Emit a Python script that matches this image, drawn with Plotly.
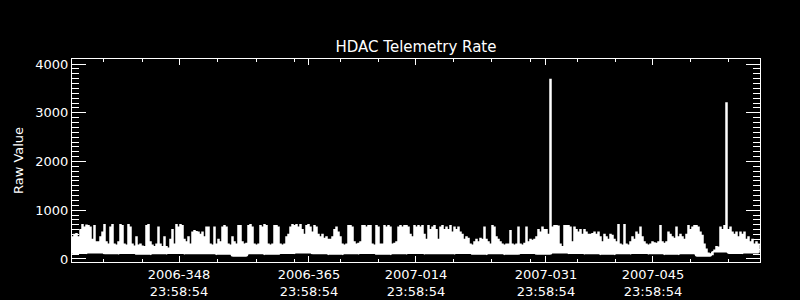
import plotly.graph_objects as go

# Time axis: fractional day-of-year (2007 days counted as 365 + doy)
day_start = 335.0
day_end = 425.0

# Upper envelope of the telemetry rate, one value per ~0.26 day column
rate_peaks = [
    # 2006-335 .. 2006-351
    450, 500, 520, 450, 600, 700, 650, 690, 680, 650, 400, 680, 350, 350, 450, 550,
    700, 350, 300, 650, 700, 300, 280, 350, 700, 680, 300, 280, 700, 650, 300, 260,
    450, 280, 300, 260, 250, 680, 700, 350, 280, 250, 300, 650, 300, 250, 450, 250,
    220, 400, 600, 300, 700, 650, 700, 680, 400, 350, 450, 300, 550, 580, 560, 550,
    # 2006-351 .. 2007-002
    500, 550, 450, 650, 650, 300, 280, 650, 300, 400, 350, 650, 680, 650, 300, 280,
    450, 350, 300, 680, 680, 350, 300, 320, 680, 700, 650, 300, 280, 300, 680, 650,
    700, 680, 300, 280, 300, 680, 680, 650, 300, 280, 300, 450, 500, 650, 700, 680,
    700, 650, 700, 600, 500, 680, 700, 650, 550, 680, 650, 500, 450, 500, 420, 450,
    400,
    # 2007-002 .. 2007-019
    400, 450, 600, 650, 550, 450, 300, 280, 300, 680, 680, 650, 350, 300, 320, 350,
    680, 680, 650, 680, 680, 300, 280, 680, 650, 300, 300, 680, 650, 680, 650, 300,
    320, 350, 650, 680, 650, 680, 680, 650, 500, 450, 680, 650, 680, 650, 680, 500,
    400, 680, 600, 650, 680, 600, 400, 650, 680, 600, 650, 600, 680, 550, 650, 600,
    650,
    # 2007-019 .. 2007-036
    550, 500, 400, 450, 420, 300, 280, 350, 400, 350, 420, 400, 650, 400, 350, 300,
    680, 650, 450, 400, 350, 300, 280, 300, 300, 580, 300, 280, 300, 650, 300, 280,
    320, 650, 350, 400, 380, 400, 450, 600, 550, 650, 600, 600, 500, 3680, 650, 680,
    680, 670, 300, 250, 680, 680, 680, 650, 350, 650, 600, 550, 600, 500, 600, 550,
    500,
    # 2007-036 .. 2007-053
    500, 520, 550, 500, 550, 450, 350, 500, 450, 400, 500, 480, 400, 350, 700, 300,
    280, 700, 300, 280, 350, 450, 400, 550, 500, 650, 450, 350, 300, 280, 300, 350,
    330, 320, 350, 680, 350, 320, 350, 550, 500, 450, 420, 650, 450, 500, 450, 400,
    500, 680, 600, 650, 680, 680, 650, 550, 480, 300, 200, 120, 100, 90, 180, 250,
    240,
    # 2007-053 .. 2007-060
    650, 600, 680, 3200, 600, 650, 550, 500, 550, 450, 550, 500, 550, 400, 450, 350,
    400, 300, 350, 300,
]

# Lower edge of the baseline band, one value per 8 columns
rate_floor = [
    120, 130, 110, 120, 100, 110, 120, 110, 110, 100, 60, 110, 100, 120, 130,
    110, 100, 110, 120, 100, 110, 120, 110, 110, 120, 100, 110, 100, 120, 100,
    130, 120, 110, 100, 110, 120, 110, 100, 110, 60, 150, 120, 130,
]

major_days = [348.99924, 365.99924, 379.99924, 396.99924, 410.99924]
major_labels = ["2006-348<br>23:58:54", "2006-365<br>23:58:54", "2007-014<br>23:58:54",
                "2007-031<br>23:58:54", "2007-045<br>23:58:54"]
minor_days = [339.06, 344.16, 353.97, 359.07, 364.17, 370.06, 375.03,
              384.97, 389.94, 395.04, 401.19, 406.16, 415.97, 420.94]
y_major = [0, 1000, 2000, 3000, 4000]

n = len(rate_peaks)
w = (day_end - day_start) / n
xs, ys = [], []
for i, top in enumerate(rate_peaks):
    x0 = day_start + i * w
    lo = rate_floor[min(i // 8, len(rate_floor) - 1)]
    xs += [x0, x0, x0 + 0.5 * w, x0 + 0.5 * w]
    ys += [lo, top, top, lo]

fig = go.Figure(go.Scatter(x=xs, y=ys, mode="lines",
                           line=dict(color="white", width=1.5), hoverinfo="skip"))

axis_common = dict(showline=True, linecolor="white", linewidth=1, mirror="allticks",
                   ticks="inside", tickcolor="white", tickwidth=1, showgrid=False,
                   zeroline=False, automargin=False, tickfont=dict(color="white", size=13))

fig.update_layout(
    width=800, height=300,
    margin=dict(l=72, r=40, t=59, b=38, autoexpand=False),
    paper_bgcolor="black", plot_bgcolor="black",
    font=dict(family="DejaVu Sans", color="white", size=13),
    showlegend=False,
    title=dict(text="HDAC Telemetry Rate", x=0.5, xref="paper", xanchor="center",
               y=1 - 47 / 300, yref="container", yanchor="middle",
               font=dict(size=15, color="white"), automargin=False),
    xaxis=dict(range=[day_start, day_end], tickmode="array", tickvals=major_days,
               ticktext=major_labels, ticklen=6,
               minor=dict(tickmode="array", tickvals=minor_days, ticks="inside",
                          ticklen=3, tickcolor="white", showgrid=False),
               **axis_common),
    yaxis=dict(range=[-62, 4103], tickmode="array", tickvals=y_major, ticklen=14,
               minor=dict(dtick=100, tick0=0, ticks="inside", ticklen=7,
                          tickcolor="white", showgrid=False),
               title=dict(text="Raw Value", standoff=8, font=dict(size=13, color="white")),
               **axis_common),
)

fig.write_html("out.html")
